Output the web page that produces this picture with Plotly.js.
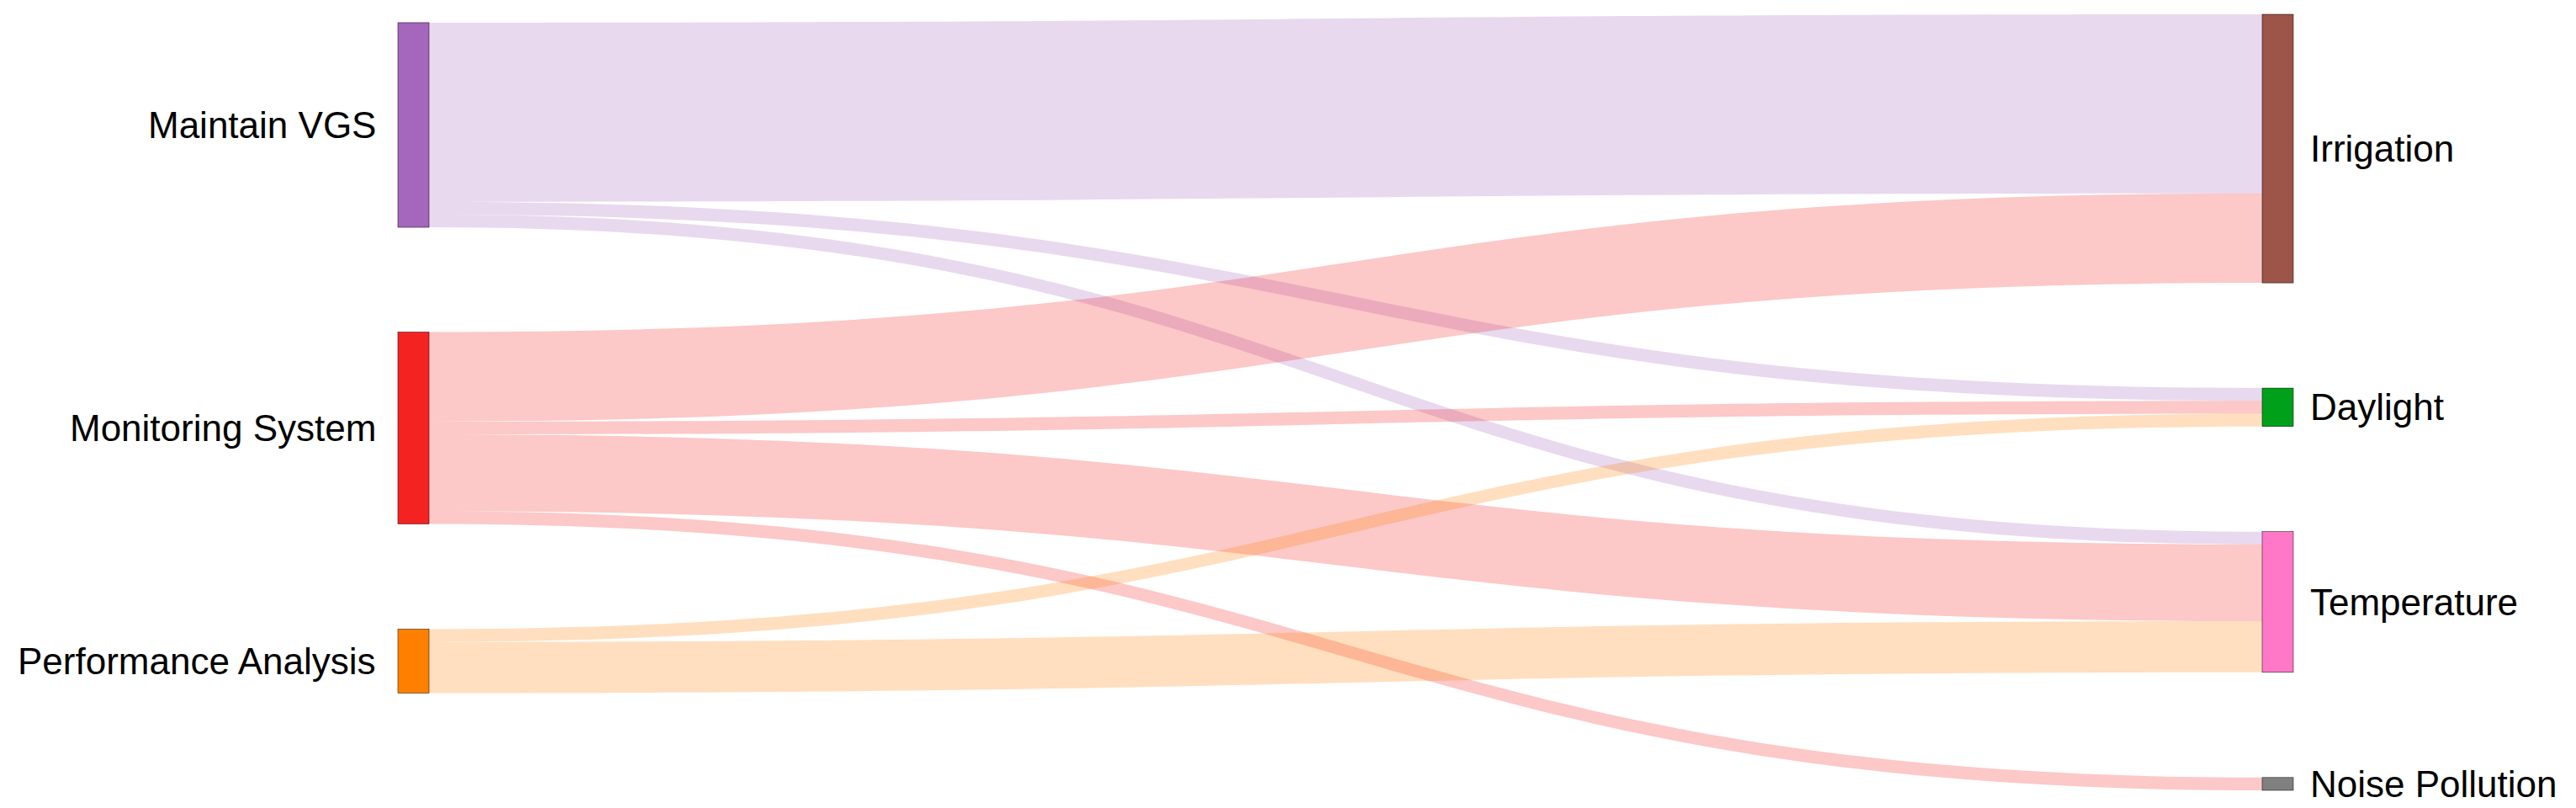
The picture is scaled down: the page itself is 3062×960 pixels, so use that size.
<!DOCTYPE html>
<html lang="en">
<head>
    <meta charset="UTF-8">
    <title>VGS Sankey</title>
    <script src="https://cdn.plot.ly/plotly-3.0.1.min.js"></script>
    <style>
        body { margin: 0; background: #ffffff; }
        #chart { width: 3062px; height: 960px; }
    </style>
</head>
<body>
    <div id="chart"></div>
    <script>
        // nodes
        const nodeLabels = ['Maintain VGS', 'Monitoring System', 'Performance Analysis',
                            'Irrigation', 'Daylight', 'Temperature', 'Noise Pollution'];
        const nodeColors = ['#a566be', '#f52222', '#ff8000',
                            '#9c5548', '#00a01a', '#ff78c8', '#808080'];

        // flows
        const linkSource = [0, 0, 0, 1, 1, 1, 1, 2, 2];
        const linkTarget = [3, 4, 5, 3, 4, 5, 6, 4, 5];
        const linkValue  = [14, 1, 1, 7, 1, 6, 1, 1, 4];

        // the source column sits high instead of centred (node centres, as fractions of the plot)
        const sourceX = [0.0082, 0.0082, 0.0082];
        const sourceY = [0.1426, 0.5331, 0.8335];

        function fade(hex, a) {
            const r = parseInt(hex.slice(1, 3), 16);
            const g = parseInt(hex.slice(3, 5), 16);
            const b = parseInt(hex.slice(5, 7), 16);
            return `rgba(${r},${g},${b},${a})`;
        }

        const labelFont = { family: '"Liberation Sans", Arial, Helvetica, sans-serif', size: 44, color: '#000000' };

        const trace = {
            type: 'sankey',
            arrangement: 'fixed',
            hoverinfo: 'none',
            node: {
                label: nodeLabels,
                color: nodeColors,
                x: sourceX,
                y: sourceY,
                thickness: 37,
                pad: 125,
                line: { color: nodeColors, width: 0.5 },
                hoverinfo: 'none'
            },
            link: {
                source: linkSource,
                target: linkTarget,
                value: linkValue,
                color: linkSource.map(s => fade(nodeColors[s], 0.25)),
                hoverinfo: 'none'
            },
            textfont: { family: labelFont.family, size: 44, color: 'rgba(0,0,0,0)' }
        };

        const layout = {
            width: 3062,
            height: 960,
            margin: { l: 473, r: 336, t: 17, b: 21 },
            paper_bgcolor: '#ffffff',
            font: labelFont
        };

        Plotly.newPlot('chart', [trace], layout, { staticPlot: true }).then(gd => {
            // node names outside the columns: sources on the left, targets on the right
            const size = gd._fullLayout._size;
            const anns = [];
            document.querySelectorAll('.sankey-node').forEach(el => {
                const n = el.__data__ && el.__data__.node;
                if (!n) return;
                const onLeft = n.x0 < size.w / 2;
                anns.push({
                    xref: 'paper', yref: 'paper',
                    x: onLeft ? (n.x0 - 24) / size.w : (n.x1 + 18) / size.w,
                    y: 1 - ((n.y0 + n.y1) / 2) / size.h,
                    xanchor: onLeft ? 'right' : 'left',
                    yanchor: 'middle',
                    text: n.label,
                    showarrow: false,
                    font: labelFont
                });
            });
            return Plotly.relayout(gd, { annotations: anns });
        });
    </script>
</body>
</html>
